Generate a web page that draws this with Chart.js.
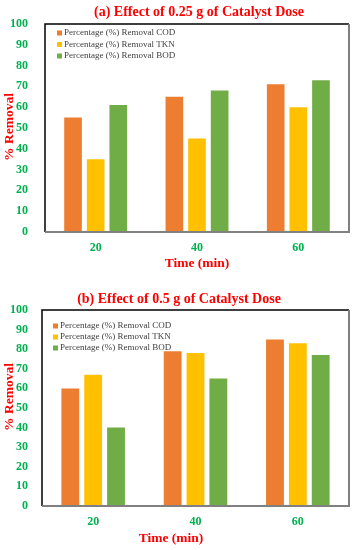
<!DOCTYPE html>
<html>
<head>
<meta charset="utf-8">
<script src="https://cdn.jsdelivr.net/npm/chart.js@4.4.1/dist/chart.umd.min.js"></script>
<style>
    body { margin: 0; background: #fff; width: 358px; height: 550px; overflow: hidden; font-family: "Liberation Serif", "Times New Roman", serif; }
    .panel { position: absolute; left: 0; width: 358px; height: 275px; }
    .lbl { position: absolute; font-weight: bold; color: #ff0000; white-space: nowrap; line-height: 1; transform: translate(-50%, -50%); }
    .ytitle { transform: translate(-50%, -50%) rotate(-90deg); }
</style>
</head>
<body>
<div class="panel" style="top:0"><canvas id="chartA" width="358" height="275"></canvas></div>
<div class="panel" style="top:275px"><canvas id="chartB" width="358" height="275"></canvas></div>

<div class="lbl" style="left:199px; top:12px; font-size:14px">(a) Effect of 0.25 g of Catalyst Dose</div>
<div class="lbl ytitle" style="left:9px; top:127px; font-size:13.5px">% Removal</div>
<div class="lbl" style="left:197px; top:263px; font-size:13.5px">Time (min)</div>

<div class="lbl" style="left:179px; top:299px; font-size:14px">(b) Effect of 0.5 g of Catalyst Dose</div>
<div class="lbl ytitle" style="left:9px; top:397px; font-size:13.5px">% Removal</div>
<div class="lbl" style="left:171px; top:538px; font-size:13.5px">Time (min)</div>

<script>
// data
const times = ["20", "40", "60"];
const seriesNames = [
    "Percentage (%) Removal COD",
    "Percentage (%) Removal TKN",
    "Percentage (%) Removal BOD"
];
const seriesColors = ["#ED7D31", "#FFC000", "#70AD47"];

// (a) 0.25 g
const codA = [55, 65, 71];
const tknA = [35, 45, 60];
const bodA = [61, 68, 73];

// (b) 0.5 g
const codB = [60, 79, 85];
const tknB = [67, 78, 83];
const bodB = [40, 65, 77];

const yMin = 0, yMax = 100, yStep = 10;

const green = "#00B050";
const serif = "'Liberation Serif', 'Times New Roman', serif";

// frame round the plot + legend inside it
const framePlugin = {
    id: "frameLegend",
    afterDatasetsDraw(chart, args, opts) {
        const { ctx, chartArea: a } = chart;
        ctx.save();
        ctx.lineWidth = 1.5;
        ctx.strokeStyle = "#000";
        ctx.beginPath();
        ctx.moveTo(a.left, a.bottom);
        ctx.lineTo(a.left, a.top);
        ctx.lineTo(a.right, a.top);
        ctx.stroke();
        ctx.lineWidth = 2;
        ctx.strokeStyle = "#808080";
        ctx.beginPath();
        ctx.moveTo(a.right, a.top);
        ctx.lineTo(a.right, a.bottom);
        ctx.lineTo(a.left, a.bottom);
        ctx.stroke();

        // legend
        ctx.font = "9px " + serif;
        ctx.textBaseline = "middle";
        ctx.textAlign = "left";
        chart.data.datasets.forEach((ds, i) => {
            const y = opts.y + i * opts.gap;
            ctx.fillStyle = ds.backgroundColor;
            ctx.fillRect(opts.x, y - 2.5, 5, 5);
            ctx.fillStyle = "#404040";
            ctx.fillText(ds.label, opts.x + 7, y);
        });
        ctx.restore();
    }
};

function makeChart(id, cod, tkn, bod, lay) {
    return new Chart(document.getElementById(id), {
        type: "bar",
        data: {
            labels: times,
            datasets: [cod, tkn, bod].map((vals, i) => ({
                label: seriesNames[i],
                data: vals,
                backgroundColor: seriesColors[i],
                borderWidth: 0,
                categoryPercentage: 0.67,
                barPercentage: 0.78
            }))
        },
        options: {
            responsive: false,
            animation: false,
            layout: { padding: { top: lay.top, right: 9, bottom: lay.bottom, left: 0 } },
            plugins: {
                legend: { display: false },
                tooltip: { enabled: false },
                frameLegend: lay.legend
            },
            scales: {
                x: {
                    grid: { display: false },
                    border: { display: false },
                    ticks: { color: green, font: { family: serif, size: 12, weight: "bold" }, padding: 1 },
                    afterFit(s) { s.height = 30; }
                },
                y: {
                    min: yMin,
                    max: yMax,
                    grid: { display: false },
                    border: { display: false },
                    ticks: { stepSize: yStep, color: green, font: { family: serif, size: 12, weight: "bold" }, padding: lay.tickPad },
                    afterFit(s) { s.width = lay.left; }
                }
            }
        },
        plugins: [framePlugin]
    });
}

makeChart("chartA", codA, tknA, bodA, { top: 24, bottom: 13, left: 45, tickPad: 9, legend: { x: 57, y: 33, gap: 11.5 } });
makeChart("chartB", codB, tknB, bodB, { top: 35, bottom: 14, left: 42, tickPad: 6, legend: { x: 53, y: 51, gap: 11 } });
</script>
</body>
</html>
